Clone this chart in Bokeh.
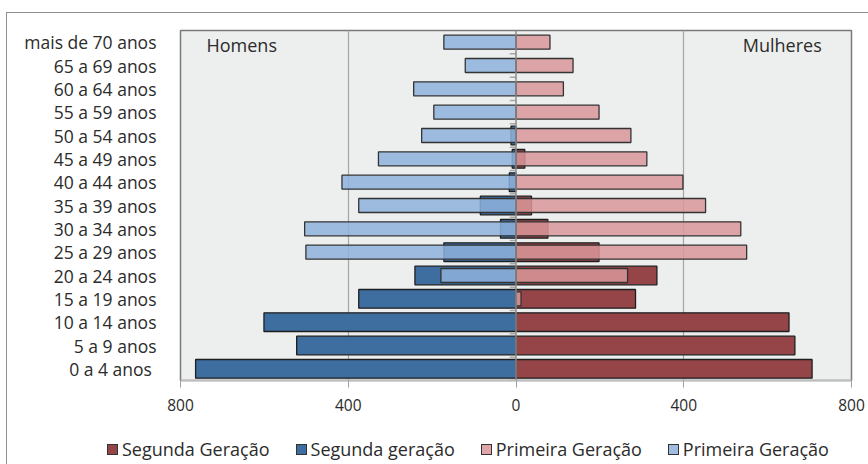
from bokeh.plotting import figure
from bokeh.layouts import column
from bokeh.models import (FactorRange, Range1d, ColumnDataSource, CustomJSTickFormatter,
                          FixedTicker, Span, Label, Div)
from bokeh.embed import file_html
from bokeh.resources import INLINE

# ---- data ----
age_groups = ["0 a  4 anos", "5 a 9 anos", "10 a 14 anos", "15 a 19 anos", "20 a 24 anos",
              "25 a 29 anos", "30 a 34 anos", "35 a 39 anos", "40 a 44 anos", "45 a 49 anos",
              "50 a 54 anos", "55 a 59 anos", "60 a 64 anos", "65 a 69 anos", "mais de 70 anos"]
men_second = [764, 523, 601, 375, 241, 172, 37, 85, 16, 9, 12, 0, 0, 0, 0]
men_first = [0, 0, 0, 0, 179, 501, 504, 375, 415, 328, 225, 196, 244, 121, 172]
women_second = [706, 665, 651, 285, 336, 198, 76, 37, 0, 21, 0, 0, 0, 0, 0]
women_first = [0, 0, 0, 12, 266, 550, 536, 452, 398, 312, 274, 198, 113, 136, 81]
x_ticks = [-800, -400, 0, 400, 800]
legend_labels = ["Segunda Geração", "Segunda geração", "Primeira Geração", "Primeira Geração"]
side_labels = ["Homens", "Mulheres"]

DARK_RED = "#954447"
DARK_BLUE = "#3E6EA0"
PINK = "#D9979A"
LIGHT_BLUE = "#8EB2DC"
LEGEND_SWATCH = [DARK_RED, DARK_BLUE, "#DFA6A9", "#9FBDE1"]
TEXT = "#2b2b2b"
FONT = "Open Sans"

p = figure(width=868, height=425, output_backend="svg", toolbar_location=None,
           y_range=FactorRange(*age_groups, range_padding=0),
           x_range=Range1d(-800, 800),
           min_border_left=180, min_border_right=17, min_border_top=30, min_border_bottom=45)
p.background_fill_color = "#EDEFEE"
p.border_fill_color = "white"
p.outline_line_color = "#7A7A7A"
p.outline_line_width = 1.5

styles = [dict(fill_color=DARK_RED, line_color="#1e1e1e", line_width=1.3),
          dict(fill_color=DARK_BLUE, line_color="#1e1e1e", line_width=1.3),
          dict(fill_color=PINK, fill_alpha=0.85, line_color="#333333", line_width=1.3),
          dict(fill_color=LIGHT_BLUE, fill_alpha=0.85, line_color="#333333", line_width=1.3)]


def src(vals, sign):
    ys = [g for g, v in zip(age_groups, vals) if v > 0]
    vs = [v for v in vals if v > 0]
    if sign < 0:
        return ColumnDataSource(dict(y=ys, left=[-v for v in vs], right=[0] * len(vs)))
    return ColumnDataSource(dict(y=ys, left=[0] * len(vs), right=vs))


p.hbar(y="y", left="left", right="right", height=0.8, source=src(women_second, 1), **styles[0])
p.hbar(y="y", left="left", right="right", height=0.8, source=src(men_second, -1), **styles[1])
p.hbar(y="y", left="left", right="right", height=0.6, source=src(women_first, 1), **styles[2])
p.hbar(y="y", left="left", right="right", height=0.6, source=src(men_first, -1), **styles[3])

# central vertical axis line with small ticks between categories
p.add_layout(Span(location=0, dimension="height", line_color="#8C8C8C", line_width=1.5))
tick_y = [(g, -0.5) for g in age_groups]
p.segment(x0=[-15] * len(tick_y), x1=[0] * len(tick_y), y0=tick_y, y1=tick_y,
          line_color="#A8A8A8", line_width=1.5)

# grid
p.ygrid.visible = False
p.xgrid.ticker = FixedTicker(ticks=[-400, 400])
p.xgrid.grid_line_color = "#A6A6A6"
p.xgrid.grid_line_width = 1.2

# x axis
p.xaxis.ticker = FixedTicker(ticks=x_ticks)
p.xaxis.formatter = CustomJSTickFormatter(code="return Math.abs(tick).toString();")
p.xaxis.axis_line_color = "#BDBDBD"
p.xaxis.axis_line_width = 1.5
p.xaxis.major_tick_line_color = "#A0A0A0"
p.xaxis.major_tick_out = 7
p.xaxis.major_tick_in = 0
p.xaxis.minor_tick_line_color = None
p.xaxis.major_label_standoff = 11
p.xaxis.major_label_text_font = FONT
p.xaxis.major_label_text_font_size = "15.5px"
p.xaxis.major_label_text_color = TEXT

# y axis (labels only)
p.yaxis.axis_line_color = None
p.yaxis.major_tick_line_color = None
p.yaxis.minor_tick_line_color = None
p.yaxis.major_label_standoff = 18
p.yaxis.major_label_text_font = FONT
p.yaxis.major_label_text_font_size = "17.5px"
p.yaxis.major_label_text_color = TEXT

# side labels
p.add_layout(Label(x=-738, y=348, y_units="screen", text=side_labels[0], text_baseline="top",
                   text_font=FONT, text_font_size="18px", text_color=TEXT))
p.add_layout(Label(x=729, y=348, y_units="screen", text=side_labels[1], text_baseline="top",
                   text_align="right", text_font=FONT, text_font_size="18px",
                   text_color=TEXT))

# legend strip below the chart
items = []
for i, (lab, col) in enumerate(zip(legend_labels, LEGEND_SWATCH)):
    gap = "0" if i == 0 else "26px"
    items.append(
        f'<span style="display:inline-flex;align-items:center;margin-left:{gap}">'
        f'<span style="display:inline-block;width:11px;height:11px;background:{col};'
        f'border:1px solid #333333"></span>'
        f'<span style="margin-left:4px">{lab}</span></span>')
legend_html = (f'<div style="display:flex;align-items:center;padding-top:13px;'
               f'padding-left:107px;font-family:\'{FONT}\';font-size:18px;line-height:22px;'
               f'color:{TEXT};white-space:nowrap">' + "".join(items) + '</div>')
legend_div = Div(text=legend_html, width=868, height=39, margin=(0, 0, 0, 0))

layout = column(p, legend_div, spacing=0)

html = file_html(layout, INLINE)
frame = ('<style>html,body{overflow:hidden}</style>'
         '<div style="position:fixed;left:6px;top:12px;width:2000px;height:2000px;'
         'border-top:1.5px solid #8F8F8F;border-left:1.5px solid #8F8F8F;'
         'pointer-events:none;z-index:10"></div>')
html = html.replace("</body>", frame + "</body>")
open("out.html", "w").write(html)
